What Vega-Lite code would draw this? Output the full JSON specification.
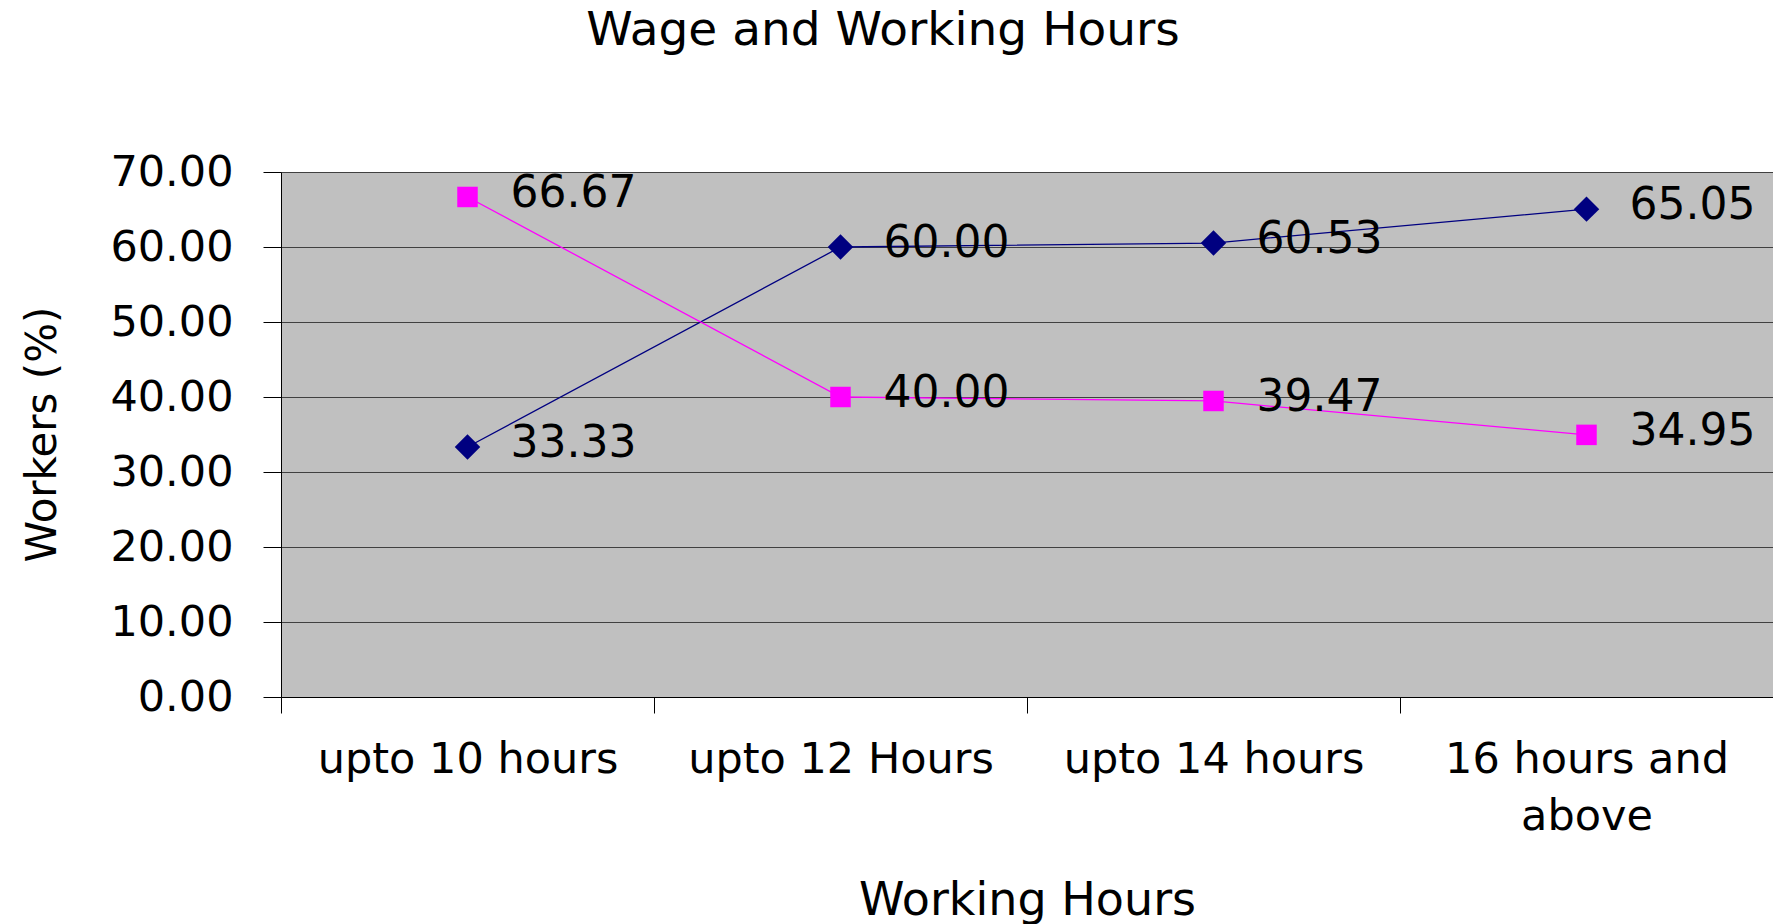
{
  "$schema": "https://vega.github.io/schema/vega-lite/v6.json",
  "autosize": {"type": "none"},
  "padding": {"left": 281, "top": 172, "right": 0, "bottom": 227},
  "width": 1492,
  "height": 525,
  "background": "white",
  "title": {
    "text": "Wage and Working Hours",
    "font": "DejaVu Sans",
    "fontSize": 47,
    "fontWeight": "normal",
    "color": "black",
    "anchor": "middle",
    "frame": "group",
    "dx": -144,
    "baseline": "alphabetic",
    "offset": 59
  },
  "config": {
    "view": {"fill": "#C0C0C0", "stroke": null},
    "font": "DejaVu Sans"
  },
  "data": {
    "values": [
      {"hours": "upto 10 hours", "series": "Series1", "pct": 33.33},
      {"hours": "upto 12 Hours", "series": "Series1", "pct": 60.00},
      {"hours": "upto 14 hours", "series": "Series1", "pct": 60.53},
      {"hours": "16 hours and above", "series": "Series1", "pct": 65.05},
      {"hours": "upto 10 hours", "series": "Series2", "pct": 66.67},
      {"hours": "upto 12 Hours", "series": "Series2", "pct": 40.00},
      {"hours": "upto 14 hours", "series": "Series2", "pct": 39.47},
      {"hours": "16 hours and above", "series": "Series2", "pct": 34.95}
    ]
  },
  "encoding": {
    "x": {
      "field": "hours",
      "type": "ordinal",
      "sort": null,
      "scale": {"type": "point", "padding": 0.5},
      "axis": {
        "title": "Working Hours",
        "titleFont": "DejaVu Sans",
        "titleFontSize": 46,
        "titleFontWeight": "normal",
        "titleColor": "black",
        "titleBaseline": "alphabetic",
        "titleY": 217,
        "labelAngle": 0,
        "labelFont": "DejaVu Sans",
        "labelFontSize": 43,
        "labelColor": "black",
        "labelPadding": 25,
        "labelOverlap": false,
        "labelLimit": 0,
        "labelLineHeight": 57,
        "labelExpr": "datum.value == '16 hours and above' ? ['16 hours and', 'above'] : datum.label",
        "tickSize": 16,
        "tickColor": "black",
        "tickOffset": -186.5,
        "labelOffset": 186.5,
        "domainColor": "black",
        "grid": false
      }
    },
    "y": {
      "field": "pct",
      "type": "quantitative",
      "scale": {"domain": [0, 70], "nice": false, "zero": true},
      "axis": {
        "title": "Workers (%)",
        "titleFont": "DejaVu Sans",
        "titleFontSize": 42,
        "titleFontWeight": "normal",
        "titleColor": "black",
        "titleAngle": -90,
        "titleAlign": "center",
        "titleBaseline": "middle",
        "titleX": -239,
        "titleY": 262,
        "values": [0, 10, 20, 30, 40, 50, 60, 70],
        "format": ".2f",
        "labelFont": "DejaVu Sans",
        "labelFontSize": 43,
        "labelColor": "black",
        "labelPadding": 30,
        "labelFlush": false,
        "labelOverlap": false,
        "tickSize": 18,
        "tickColor": "black",
        "domainColor": "black",
        "grid": true,
        "gridColor": "#404040",
        "gridWidth": 1
      }
    }
  },
  "layer": [
    {
      "mark": {"type": "line", "strokeWidth": 1.3},
      "encoding": {
        "color": {"field": "series", "type": "nominal", "scale": {"domain": ["Series1", "Series2"], "range": ["#000080", "#FF00FF"]}, "legend": null}
      }
    },
    {
      "mark": {"type": "point", "filled": true, "opacity": 1},
      "encoding": {
        "color": {"field": "series", "type": "nominal", "scale": {"domain": ["Series1", "Series2"], "range": ["#000080", "#FF00FF"]}, "legend": null},
        "shape": {"field": "series", "type": "nominal", "scale": {"domain": ["Series1", "Series2"], "range": ["diamond", "square"]}, "legend": null},
        "size": {"field": "series", "type": "nominal", "scale": {"domain": ["Series1", "Series2"], "range": [650, 420]}, "legend": null}
      }
    },
    {
      "mark": {"type": "text", "align": "left", "baseline": "middle", "dx": 43, "dy": -3, "font": "DejaVu Sans", "fontSize": 44, "color": "black"},
      "encoding": {
        "text": {"field": "pct", "type": "quantitative", "format": ".2f"}
      }
    }
  ]
}
